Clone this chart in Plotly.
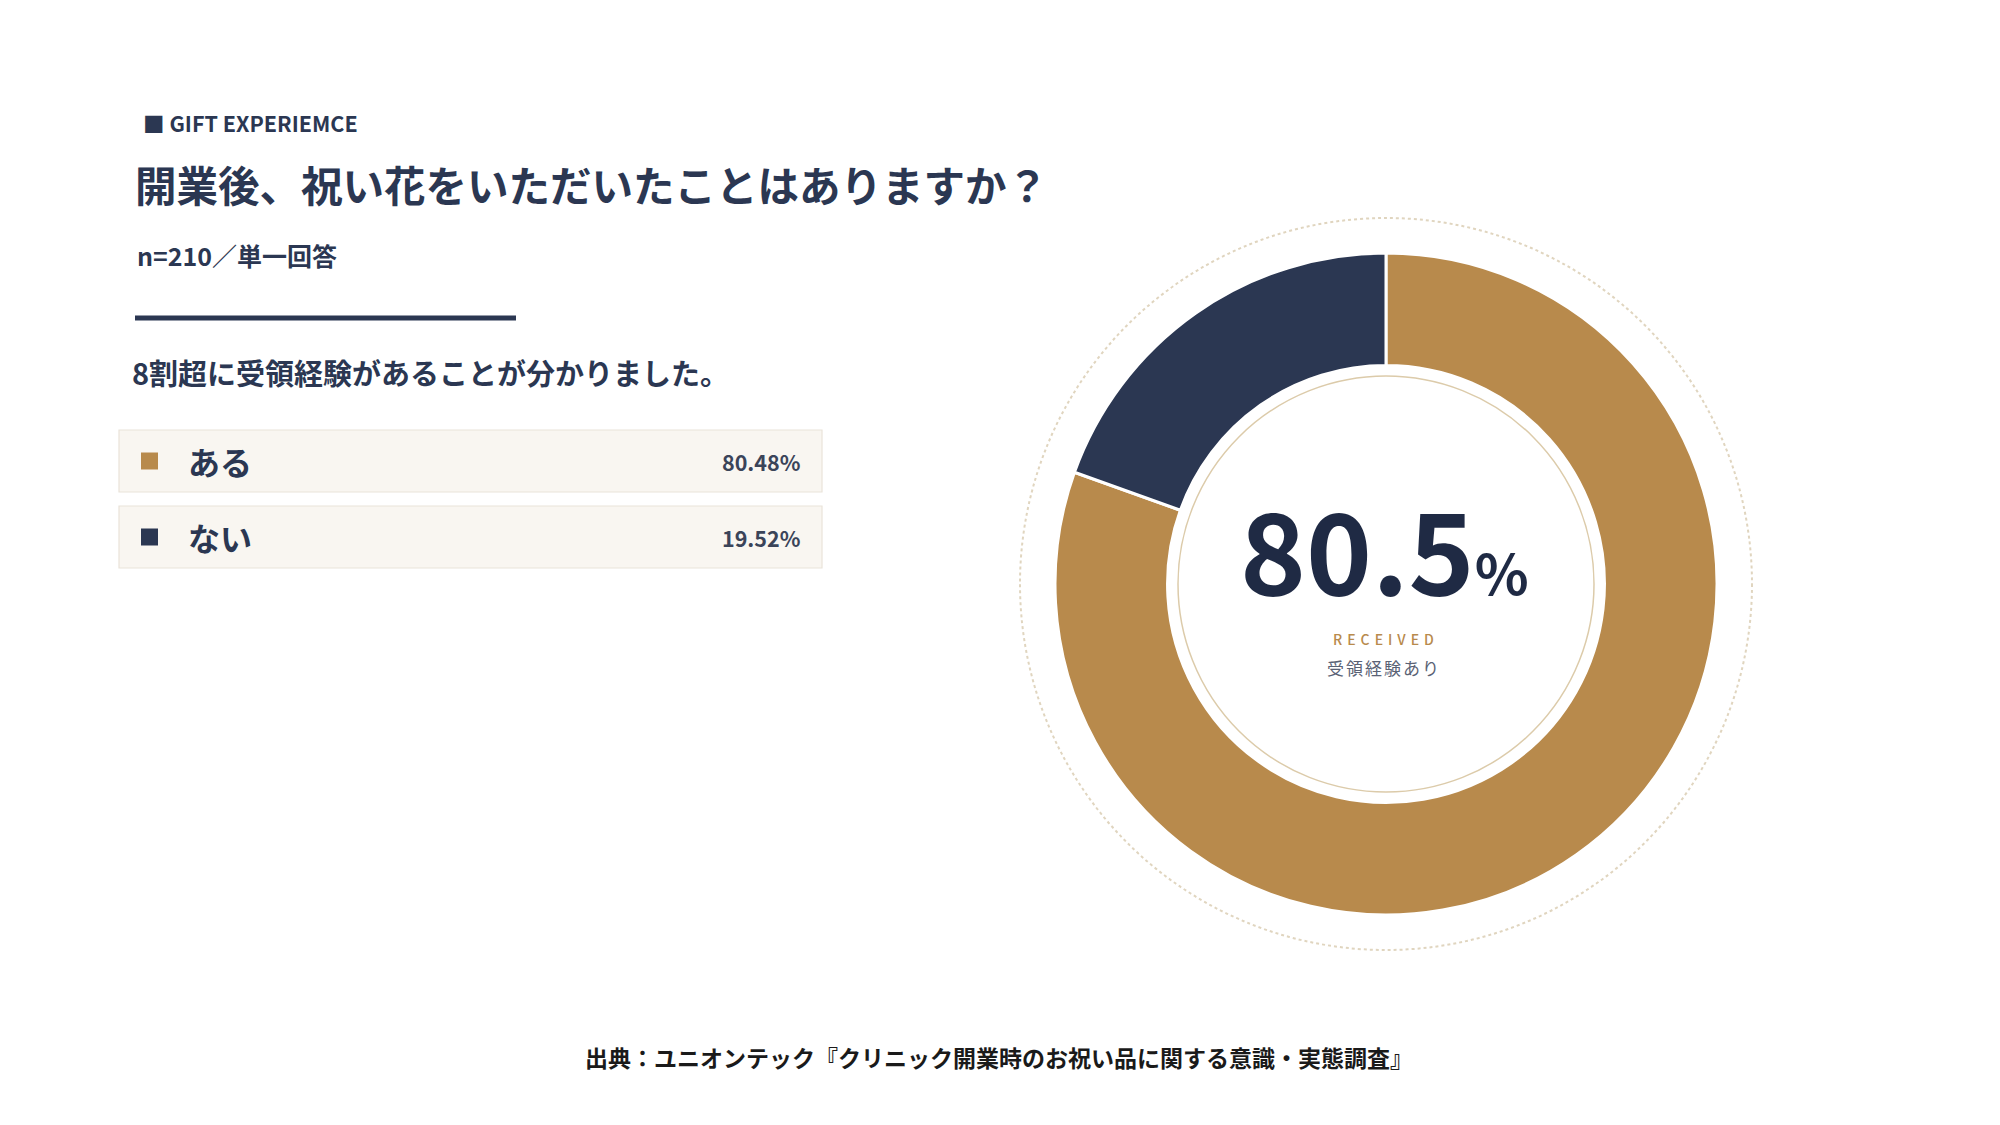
import plotly.graph_objects as go

# ---- data ----
labels = ["ある", "ない"]
values = [80.48, 19.52]
colors = ["#b88a4c", "#2b3752"]
kicker = "■ GIFT EXPERIEMCE"
title = "開業後、祝い花をいただいたことはありますか？"
sample = "n=210／単一回答"
summary = "8割超に受領経験があることが分かりました。"
center_label_en = "RECEIVED"
center_label_jp = "受領経験あり"
source = "出典：ユニオンテック『クリニック開業時のお祝い品に関する意識・実態調査』"

W, H = 2000, 1125
NAVY = "#2b3752"
FONT = "Noto Sans CJK JP"


def px(x):
    return x / W


def py(y):
    return 1 - y / H


cx, cy, R = 1378, 576, 331

fig = go.Figure()
fig.add_trace(go.Pie(
    labels=labels, values=values, hole=0.66, sort=False,
    direction="clockwise", rotation=0,
    marker=dict(colors=colors, line=dict(color="white", width=3)),
    textinfo="none", hoverinfo="skip", showlegend=False,
    domain=dict(x=[px(cx - R), px(cx + R)], y=[py(cy + R), py(cy - R)]),
))

shapes = []
# dotted outer ring
r_dot = 366
shapes.append(dict(type="circle", xref="paper", yref="paper",
                   x0=px(cx - r_dot), x1=px(cx + r_dot), y0=py(cy + r_dot), y1=py(cy - r_dot),
                   line=dict(color="#e0d5bf", width=2, dash="dot"), layer="below"))
# thin inner ring
r_in = 208
shapes.append(dict(type="circle", xref="paper", yref="paper",
                   x0=px(cx - r_in), x1=px(cx + r_in), y0=py(cy + r_in), y1=py(cy - r_in),
                   line=dict(color="#dccbaa", width=1.5), layer="above"))
# divider line
shapes.append(dict(type="line", xref="paper", yref="paper",
                   x0=px(127), x1=px(508), y0=py(310), y1=py(310),
                   line=dict(color=NAVY, width=5)))

annotations = []


def ann(text, x, y, size, color=NAVY, xanchor="left", weight=700):
    annotations.append(dict(text=text, x=px(x), y=py(y), xref="paper", yref="paper",
                            xanchor=xanchor, yanchor="middle", showarrow=False,
                            font=dict(family=FONT, size=size, color=color, weight=weight)))


ann(kicker, 133, 115, 21.5)
ann(title, 125, 176, 41.5)
ann(sample, 127, 247, 25)
ann(summary, 122, 364, 29)

# legend rows
row_y = [453, 529]
for lab, val, col, yc in zip(labels, values, colors, row_y):
    shapes.append(dict(type="rect", xref="paper", yref="paper",
                       x0=px(111), x1=px(814), y0=py(yc + 31), y1=py(yc - 31),
                       fillcolor="#f9f6f1", line=dict(color="#e9e3d9", width=1.2), layer="below"))
    shapes.append(dict(type="rect", xref="paper", yref="paper",
                       x0=px(133), x1=px(150), y0=py(yc + 8.5), y1=py(yc - 8.5),
                       fillcolor=col, line=dict(width=0)))
    ann(lab, 178, yc, 32)
    ann(f"{val:.2f}%", 795, yc, 21.5, color="#3b4459", xanchor="right")

# center text
annotations.append(dict(
    text=f"{values[0]:.1f}<span style='font-size:56px'>%</span>",
    x=px(cx - 2), y=py(538), xref="paper", yref="paper", xanchor="center", yanchor="middle",
    height=112, valign="middle",
    showarrow=False, font=dict(family=FONT, size=112, color="#1f2a44", weight=700)))
annotations.append(dict(
    text=f"<span style='letter-spacing:5px'>{center_label_en}</span>",
    x=px(cx), y=py(631), xref="paper", yref="paper", xanchor="center", yanchor="middle",
    showarrow=False, font=dict(family=FONT, size=14, color="#b88a4c", weight=500)))
annotations.append(dict(
    text=f"<span style='letter-spacing:2px'>{center_label_jp}</span>",
    x=px(cx - 2), y=py(659), xref="paper", yref="paper", xanchor="center", yanchor="middle",
    showarrow=False, font=dict(family=FONT, size=17, color="#5a6275", weight=400)))

ann(source, 991, 1049, 23, color="#1a1a1a", xanchor="center")

fig.update_layout(
    width=W, height=H, margin=dict(l=0, r=0, t=0, b=0),
    paper_bgcolor="white", plot_bgcolor="white",
    shapes=shapes, annotations=annotations,
    font=dict(family=FONT),
)

fig.write_html("out.html")
